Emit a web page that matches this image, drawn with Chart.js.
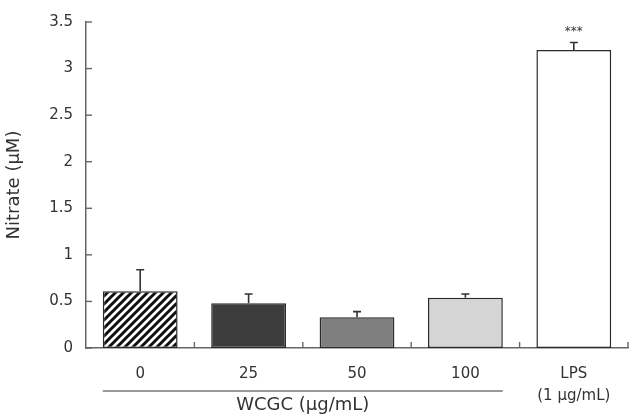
<!DOCTYPE html>
<html>
<head>
<meta charset="utf-8">
<script src="https://cdn.jsdelivr.net/npm/chart.js@4.4.0/dist/chart.umd.min.js"></script>
<style>
	body { margin: 0; background: #fff; }
	#wrap { width: 642px; height: 418px; }
</style>
</head>
<body>
<div id="wrap"><canvas id="nitrateChart"></canvas></div>
<script>
// data
var categories = ['0', '25', '50', '100', ['LPS', '(1 μg/mL)']];
var nitrate = [0.61, 0.48, 0.33, 0.54, 3.20];
var errors = [0.23, 0.10, 0.06, 0.04, 0.08];
var marks = ['', '', '', '', '***'];
var groupLabel = 'WCGC (μg/mL)';
var groupSize = 4;

var FONT = "'DejaVu Sans', sans-serif";
var INK = '#333';

// hatched fill for the control bar
function hatch() {
	var c = document.createElement('canvas');
	c.width = 8; c.height = 8;
	var g = c.getContext('2d');
	g.fillStyle = '#fff';
	g.fillRect(0, 0, 8, 8);
	g.strokeStyle = '#111';
	g.lineWidth = 3;
	g.beginPath();
	g.moveTo(-1, 9); g.lineTo(9, -1);
	g.moveTo(-3, 3); g.lineTo(3, -3);
	g.moveTo(5, 11); g.lineTo(11, 5);
	g.stroke();
	return g.createPattern(c, 'repeat');
}

var ctx0 = document.getElementById('nitrateChart').getContext('2d');
var barColors = [hatch(), '#3d3d3d', '#7f7f7f', '#d6d6d6', '#ffffff'];

var extras = {
	id: 'extras',
	afterDatasetsDraw: function(chart) {
		var ctx = chart.ctx;
		var x = chart.scales.x, y = chart.scales.y;
		var meta = chart.getDatasetMeta(0);
		ctx.save();
		// error bars (upper only)
		ctx.strokeStyle = '#333';
		ctx.lineWidth = 1.6;
		meta.data.forEach(function(bar, i) {
			var top = y.getPixelForValue(nitrate[i]);
			var end = y.getPixelForValue(nitrate[i] + errors[i]);
			ctx.beginPath();
			ctx.moveTo(bar.x, top);
			ctx.lineTo(bar.x, end);
			ctx.moveTo(bar.x - 4, end);
			ctx.lineTo(bar.x + 4, end);
			ctx.stroke();
			if (marks[i]) {
				ctx.fillStyle = INK;
				ctx.font = '12px ' + FONT;
				ctx.textAlign = 'center';
				ctx.textBaseline = 'middle';
				ctx.fillText(marks[i], bar.x, end - 11);
			}
		});
		// inward ticks
		ctx.strokeStyle = '#666';
		ctx.lineWidth = 1.4;
		y.ticks.forEach(function(t) {
			var py = y.getPixelForValue(t.value);
			ctx.beginPath();
			ctx.moveTo(x.left, py);
			ctx.lineTo(x.left + 6, py);
			ctx.stroke();
		});
		var half = (x.right - x.left) / categories.length / 2;
		for (var i = 0; i < categories.length; i++) {
			var px = x.getPixelForValue(i) + half;
			ctx.beginPath();
			ctx.moveTo(px, y.bottom);
			ctx.lineTo(px, y.bottom - 6);
			ctx.stroke();
		}
		// group bracket for WCGC doses
		var first = meta.data[0], last = meta.data[groupSize - 1];
		var x1 = first.x - first.width / 2, x2 = last.x + last.width / 2;
		ctx.strokeStyle = '#777';
		ctx.lineWidth = 1.5;
		ctx.beginPath();
		ctx.moveTo(x1, y.bottom + 43);
		ctx.lineTo(x2, y.bottom + 43);
		ctx.stroke();
		ctx.fillStyle = INK;
		ctx.font = '18px ' + FONT;
		ctx.textAlign = 'center';
		ctx.textBaseline = 'middle';
		ctx.fillText(groupLabel, (x1 + x2) / 2, y.bottom + 57);
		ctx.restore();
	}
};

new Chart(ctx0, {
	type: 'bar',
	data: {
		labels: categories,
		datasets: [{
			data: nitrate,
			backgroundColor: barColors,
			borderColor: '#2a2a2a',
			borderWidth: 1.5,
			borderSkipped: false,
			categoryPercentage: 1,
			barPercentage: 0.69
		}]
	},
	options: {
		responsive: true,
		maintainAspectRatio: false,
		animation: false,
		layout: { padding: { top: 16, right: 14, left: 0, bottom: 0 } },
		plugins: {
			legend: { display: false },
			tooltip: { enabled: false }
		},
		scales: {
			x: {
				grid: { display: false, drawTicks: false },
				border: { color: '#666', width: 1.5 },
				ticks: {
					color: INK,
					padding: 15,
					maxRotation: 0,
					font: { family: FONT, size: 15, lineHeight: 1.45 }
				},
				afterFit: function(s) { s.height = 70; }
			},
			y: {
				min: 0,
				max: 3.5,
				grid: { display: false, drawTicks: false },
				border: { color: '#666', width: 1.5 },
				ticks: {
					stepSize: 0.5,
					color: INK,
					padding: 13,
					font: { family: FONT, size: 15 },
					callback: function(v) { return String(v); }
				},
				title: {
					display: true,
					text: 'Nitrate (μM)',
					color: INK,
					padding: { top: 4, bottom: 0 },
					font: { family: FONT, size: 18 }
				},
				afterFit: function(s) { s.width = 86; }
			}
		}
	},
	plugins: [extras]
});
</script>
</body>
</html>
